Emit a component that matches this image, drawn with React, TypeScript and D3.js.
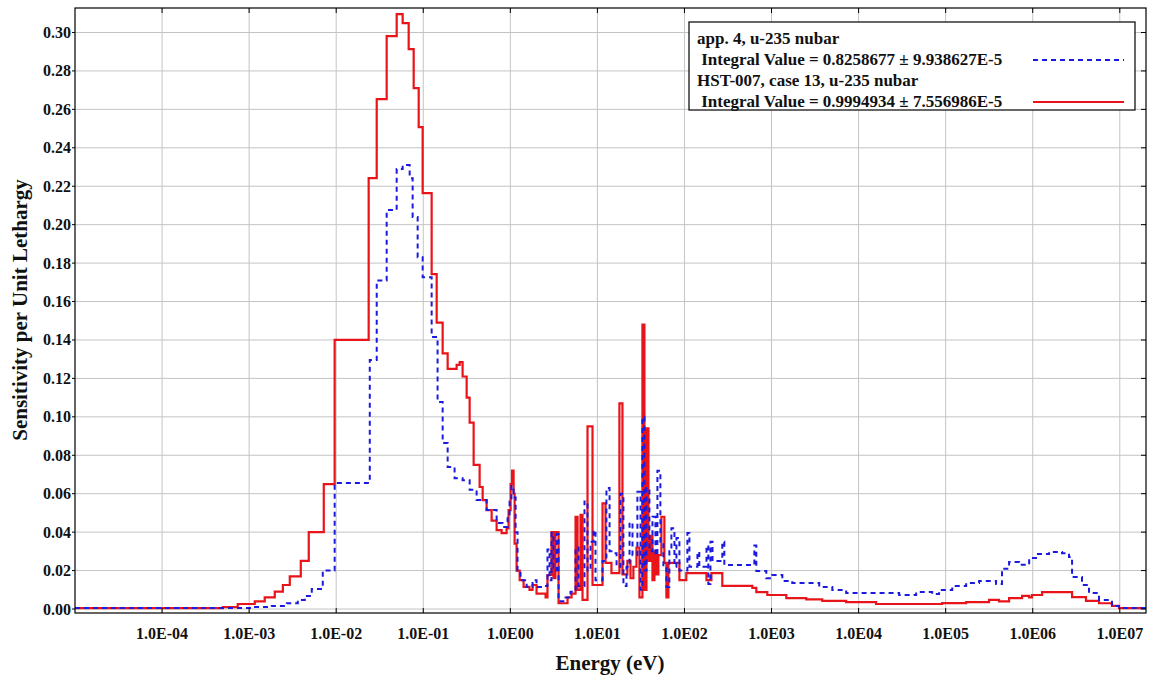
import React from "react";
import * as d3 from "d3";

// Step-function group boundaries (eV) and sensitivity values (per unit lethargy)
const redBounds = [1e-5, 4.99e-4, 7.4e-4, 1.16e-3, 1.51e-3, 1.97e-3, 2.44e-3, 2.93e-3, 3.92e-3, 4.84e-3, 7.2e-3, 9.6e-3,
  0.0236, 0.0292, 0.038, 0.0495, 0.058, 0.068, 0.0776, 0.0886, 0.0984, 0.1248, 0.1426, 0.167, 0.1906, 0.2417, 0.262, 0.283,
  0.315, 0.341, 0.379, 0.444, 0.481, 0.534, 0.61, 0.696, 0.794, 0.906, 0.955, 1.007, 1.047, 1.09, 1.12, 1.18, 1.28, 1.42,
  1.66, 1.8, 2.0, 2.54, 2.67, 2.97, 3.13, 3.3, 3.58, 4.54, 5.05, 5.61, 5.92, 6.4, 6.75, 7.7, 8.79, 11.45, 12.4, 14.5, 17.9,
  19.4, 22.1, 24.0, 25.9, 28.1, 30.4, 32.9, 34.7, 36.6, 38.6, 40.7, 42.9, 45.2, 47.6, 50.2, 54.3, 58.8, 62.0, 65.4, 87.5,
  105, 179, 204, 272, 602, 669, 895, 1479, 2506, 3827, 7.2e3, 1.59e4, 9.1e4, 1.72e5, 3.15e5, 4.1e5, 5.35e5, 7.55e5, 9.1e5,
  9.8e5, 1.28e6, 2.83e6, 4.09e6, 5.77e6, 8.13e6, 9.8e6];
const redValues = [0.0005, 0.001, 0.0026, 0.004, 0.006, 0.009, 0.0125, 0.017, 0.025, 0.04, 0.065, 0.14,
  0.2242, 0.2653, 0.2981, 0.3096, 0.3049, 0.2914, 0.2711, 0.2508, 0.2164, 0.1743, 0.149, 0.133, 0.125, 0.127, 0.1285, 0.121,
  0.11, 0.097, 0.075, 0.0635, 0.0567, 0.0515, 0.046, 0.041, 0.0395, 0.042, 0.0515, 0.065, 0.072, 0.06, 0.034, 0.02, 0.015, 0.0115,
  0.01, 0.0125, 0.008, 0.006, 0.0177, 0.04, 0.016, 0.04, 0.003, 0.006, 0.008, 0.048, 0.01, 0.049, 0.0047, 0.095, 0.0125, 0.055, 0.024, 0.0187, 0.107,
  0.018, 0.025, 0.016, 0.022, 0.032, 0.006, 0.148, 0.01, 0.094, 0.025, 0.038, 0.015, 0.03, 0.018, 0.028, 0.048, 0.024, 0.006, 0.024, 0.015,
  0.0187, 0.015, 0.0187, 0.012, 0.011, 0.0088, 0.0073, 0.0057, 0.005, 0.0042, 0.0036, 0.0026, 0.0031, 0.0036, 0.0047, 0.004, 0.0057, 0.0068, 0.006,
  0.0073, 0.0088, 0.0062, 0.0042, 0.003, 0.0016, 0.0005];

const blueBounds = [1e-5, 1.07e-3, 1.82e-3, 2.71e-3, 3.62e-3, 4.36e-3, 5.24e-3, 7.01e-3, 9.6e-3, 0.0243, 0.0292, 0.038,
  0.0495, 0.058, 0.0698, 0.0755, 0.0862, 0.0984, 0.1248, 0.146, 0.167, 0.1906, 0.229, 0.283, 0.341, 0.41, 0.534, 0.696,
  0.814, 0.93, 0.98, 1.03, 1.09, 1.15, 1.21, 1.31, 1.54, 1.8, 2.0, 2.47, 2.67, 2.82, 2.97, 3.13, 3.4, 3.58, 4.31, 4.91,
  5.61, 6.07, 7.11, 7.7, 8.34, 9.02, 9.51, 11.45, 12.7, 13.8, 14.9, 16.6, 18.4, 19.9, 21.6, 23.4, 25.3, 28.8, 31.3, 32.9,
  34.7, 36.6, 39.6, 42.9, 46.4, 48.9, 52.9, 57.3, 62.0, 67.1, 70.8, 76.7, 80.9, 87.5, 108, 114, 141, 148, 179, 188, 199,
  210, 272, 287, 635, 669, 871, 1021, 1331, 1731, 3530, 4990, 7.2e3, 2.92e4, 4.58e4, 7.0e4, 8.4e4, 1.19e5, 1.72e5, 2.42e5,
  3.79e5, 4.44e5, 5.35e5, 6.97e5, 9.1e5, 1.09e6, 1.54e6, 2.17e6, 2.61e6, 2.83e6, 3.68e6, 4.43e6, 5.77e6, 8.13e6, 9.8e6];
const blueValues = [0.0005, 0.001, 0.0016, 0.003, 0.0047, 0.0068, 0.0104, 0.02, 0.0656, 0.1296, 0.171, 0.2076,
  0.229, 0.231, 0.2242, 0.204, 0.183, 0.1727, 0.1415, 0.1077, 0.0864, 0.0739, 0.068, 0.067, 0.062, 0.0567, 0.0515, 0.0447,
  0.0427, 0.048, 0.056, 0.064, 0.058, 0.04, 0.02, 0.015, 0.0115, 0.015, 0.0115, 0.012, 0.031, 0.015, 0.0395, 0.02, 0.039, 0.004, 0.006, 0.009,
  0.032, 0.012, 0.056, 0.02, 0.035, 0.041, 0.015, 0.025, 0.063, 0.03, 0.029, 0.022, 0.06, 0.012, 0.022, 0.045, 0.028, 0.061, 0.01, 0.1,
  0.02, 0.063, 0.03, 0.048, 0.028, 0.072, 0.035, 0.022, 0.0115, 0.03, 0.042, 0.022, 0.037, 0.02, 0.0395, 0.022, 0.0297, 0.022, 0.033, 0.013, 0.035,
  0.025, 0.035, 0.0229, 0.033, 0.0198, 0.016, 0.0177, 0.0146, 0.0135, 0.0115, 0.0099, 0.0083, 0.0073, 0.0088, 0.0078, 0.0099, 0.012, 0.0135, 0.0146,
  0.013, 0.021, 0.0245, 0.023, 0.0265, 0.0286, 0.0297, 0.029, 0.027, 0.0166, 0.0125, 0.0083, 0.0047, 0.0016, 0.0005];

const xTickValues = [1e-4, 1e-3, 1e-2, 1e-1, 1e0, 1e1, 1e2, 1e3, 1e4, 1e5, 1e6, 1e7];
const xTickLabels = ["1.0E-04", "1.0E-03", "1.0E-02", "1.0E-01", "1.0E00", "1.0E01", "1.0E02", "1.0E03", "1.0E04", "1.0E05", "1.0E06", "1.0E07"];
const yTickValues = [0, 0.02, 0.04, 0.06, 0.08, 0.1, 0.12, 0.14, 0.16, 0.18, 0.2, 0.22, 0.24, 0.26, 0.28, 0.3];

const legendLines = [
  "app. 4, u-235 nubar",
  " Integral Value = 0.8258677 \u00b1 9.938627E-5",
  "HST-007, case 13, u-235 nubar",
  " Integral Value = 0.9994934 \u00b1 7.556986E-5",
];

const E_MIN = 1e-5;
const E_MAX = 2e7;

export default function App() {
  const W = 1156, H = 679;
  const L = 75, R = 1146, T = 8, B = 613;
  const x = d3.scaleLog().domain([E_MIN, E_MAX]).range([L, R]);
  const y = d3.scaleLinear().domain([-0.00208, 0.31275]).range([B, T]);
  const font = "'Liberation Serif', 'Times New Roman', serif";

  const mk = (bounds: number[], vals: number[]) => {
    const pts: [number, number][] = bounds.map((b, i) => [b, vals[i]]);
    pts.push([E_MAX, vals[vals.length - 1]]);
    return d3.line<[number, number]>().x(d => x(d[0])).y(d => y(d[1])).curve(d3.curveStepAfter)(pts) || "";
  };
  const redPath = mk(redBounds, redValues);
  const bluePath = mk(blueBounds, blueValues);

  return (
    <svg width={W} height={H} style={{ position: "absolute", left: 0, top: 0, background: "#fff" }} fontFamily={font}>
      <rect x={0} y={0} width={W} height={H} fill="#fff" />
      <defs>
        <clipPath id="plotclip"><rect x={L} y={T} width={R - L} height={B - T} /></clipPath>
      </defs>
      {/* grid */}
      {xTickValues.map((v, i) => (
        <line key={"gx" + i} x1={x(v)} x2={x(v)} y1={T} y2={B} stroke="#c4c4c4" strokeWidth={1} />
      ))}
      {yTickValues.map((v, i) => (
        <line key={"gy" + i} x1={L} x2={R} y1={y(v)} y2={y(v)} stroke="#c4c4c4" strokeWidth={1} />
      ))}
      {/* data */}
      <g clipPath="url(#plotclip)">
        <path d={redPath} fill="none" stroke="#e8141a" strokeWidth={2.2} strokeLinejoin="miter" />
        <path d={bluePath} fill="none" stroke="#1a1ae0" strokeWidth={2} strokeDasharray="5,4" />
      </g>
      {/* frame */}
      <rect x={L} y={T} width={R - L} height={B - T} fill="none" stroke="#000" strokeWidth={1.2} />
      {/* ticks */}
      {xTickValues.map((v, i) => (
        <g key={"tx" + i}>
          <line x1={x(v)} x2={x(v)} y1={B} y2={B - 5} stroke="#000" />
          <line x1={x(v)} x2={x(v)} y1={T} y2={T + 5} stroke="#000" />
          <text x={x(v)} y={639} textAnchor="middle" fontSize={16} fontWeight="bold" fill="#111">{xTickLabels[i]}</text>
        </g>
      ))}
      {yTickValues.map((v, i) => (
        <g key={"ty" + i}>
          <line x1={L - 3} x2={L} y1={y(v)} y2={y(v)} stroke="#000" />
          <line x1={R} x2={R - 5} y1={y(v)} y2={y(v)} stroke="#000" />
          <text x={71} y={y(v) + 5.5} textAnchor="end" fontSize={16} fontWeight="bold" fill="#111">{v.toFixed(2)}</text>
        </g>
      ))}
      {/* axis titles */}
      <text x={610} y={670} textAnchor="middle" fontSize={21} fontWeight="bold" fill="#111">Energy (eV)</text>
      <text transform={`translate(27,310) rotate(-90)`} textAnchor="middle" fontSize={21} fontWeight="bold" fill="#111">Sensitivity per Unit Lethargy</text>
      {/* legend */}
      <rect x={689} y={22} width={446} height={88} fill="#fff" stroke="#000" strokeWidth={1.2} />
      {legendLines.map((t, i) => (
        <text key={"lg" + i} x={697} y={44 + i * 21} fontSize={17} fontWeight="bold" fill="#111" style={{ whiteSpace: "pre" }}>{t}</text>
      ))}
      <line x1={1033} x2={1124} y1={60} y2={60} stroke="#1a1ae0" strokeWidth={2} strokeDasharray="5,4" />
      <line x1={1033} x2={1124} y1={102} y2={102} stroke="#e8141a" strokeWidth={2.2} />
    </svg>
  );
}
